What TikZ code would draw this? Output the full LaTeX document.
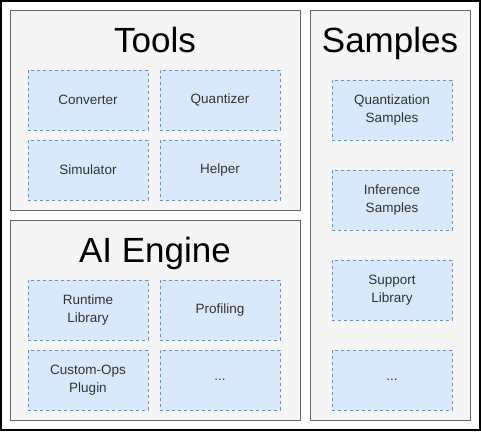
\documentclass[tikz,border=0pt]{standalone}
\usepackage{fontspec}
\setmainfont{Liberation Sans}
\definecolor{panelfill}{HTML}{F5F5F5}
\definecolor{panelline}{HTML}{666666}
\definecolor{blockfill}{HTML}{DAE8FC}
\definecolor{blockline}{HTML}{6C8EBF}
\definecolor{blocktext}{HTML}{333333}
\tikzset{panel/.style = {draw=panelline, fill=panelfill, line width=1pt, rectangle, inner sep=0pt},
         block/.style = {draw=blockline, fill=blockfill, line width=0.8pt, dash pattern=on 3pt off 3pt, rectangle, minimum height=60pt, minimum width=120pt, inner sep=0pt, align=center, text=blocktext, font=\fontsize{13.5}{17.5}\selectfont},
         title/.style = {anchor=base, font=\fontsize{35}{40}\selectfont}}

\begin{document}
\begin{tikzpicture}[x=1pt,y=-1pt]
        \useasboundingbox(0,0)rectangle(481,431);
        \draw[line width=2pt](1,1)rectangle(480,430);

        \node[panel,minimum width=290pt,minimum height=200pt](tools)at(155,110){};
        \node[title](toolsT)at(155,52){Tools};
        \node[block](conv)at(88,100){Converter};
        \node[block](quant)at(220,100){Quantizer};
        \node[block](sim)at(88,170){Simulator};
        \node[block](help)at(220,170){Helper};

        \node[panel,minimum width=290pt,minimum height=200pt](engine)at(155,320){};
        \node[title](engineT)at(155,262){AI Engine};
        \node[block](runtime)at(88,310){Runtime\\Library};
        \node[block](prof)at(220,310){Profiling};
        \node[block](custom)at(88,380){Custom-Ops\\Plugin};
        \node[block](more)at(220,380){...};

        \node[panel,minimum width=160pt,minimum height=410pt](samples)at(390,215){};
        \node[title](samplesT)at(390,52){Samples};
        \node[block](qsamp)at(392,110){Quantization\\Samples};
        \node[block](isamp)at(392,200){Inference\\Samples};
        \node[block](slib)at(392,290){Support\\Library};
        \node[block](smore)at(392,380){...};
    \end{tikzpicture}
\end{document}
